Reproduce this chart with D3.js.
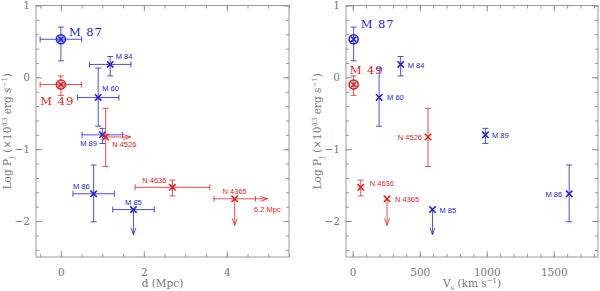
<!DOCTYPE html>
<html>
<head>
<meta charset="utf-8">
<script src="https://cdn.jsdelivr.net/npm/d3@7"></script>
<style>
  body { margin: 0; background: #fff; }
  .axis text { font-family: 'DejaVu Serif', serif; font-size: 10.5px; fill: #777; }
  .axis line { stroke: #999; }
  .axis path { display: none; }
  .title { font-family: 'DejaVu Serif', serif; font-size: 10.5px; fill: #777; }
  .lab { font-family: 'Liberation Sans', Arial, sans-serif; font-size: 7.5px; }
  .big { font-family: 'DejaVu Serif', serif; font-size: 11.5px; }
</style>
</head>
<body>
<svg width="600" height="291"></svg>
<script>
// galaxy data
const galaxies = ['M 87', 'M 49', 'M 84', 'M 60', 'M 89', 'N 4526', 'M 86', 'M 85', 'N 4636', 'N 4365'];
const subgroup = ['A', 'B', 'A', 'A', 'A', 'B', 'A', 'A', 'B', 'B'];
const circled = [true, true, false, false, false, false, false, false, false, false];
const dist = [0, 0, 1.19, 0.9, 1.0, 1.08, 0.79, 1.75, 2.69, 4.19];
const distErr = [0.5, 0.5, 0.5, 0.5, 0.49, null, 0.5, 0.5, 0.9, 0.5];
const distLimit = [null, null, null, null, null, 1.68, null, null, null, 4.98];
const velocity = [7, 7, 358, 197, 990, 562, 1615, 595, 60, 256];
const logP = [0.53, -0.1, 0.18, -0.28, -0.8, -0.83, -1.62, -1.84, -1.53, -1.69];
const logPHi = [0.7, 0.02, 0.29, 0.13, -0.71, -0.43, -1.22, null, -1.43, null];
const logPLo = [0.23, -0.25, 0.02, -0.68, -0.92, -1.24, -2.01, null, -1.65, null];
const logPLimit = [null, null, null, null, null, null, null, -2.19, null, -2.06];

const svg = d3.select('svg');
const color = d3.scaleOrdinal().domain(['A', 'B']).range(['#2424d8', '#e02424']);

// label placement, [dx, dy, anchor]
const labLeft = [[8, -3, 'start'], [-3.5, 20, 'middle'], [5.5, -5, 'start'], [4, -6, 'start'], [-5.5, 11.5, 'end'],
  [6.5, 10, 'start'], [-4, -5, 'end'], [0, -5, 'middle'], [-6, -4.5, 'end'], [0, -4.7, 'middle']];
const labRight = [[7, -11, 'start'], [-4, -10.5, 'start'], [7, 3.5, 'start'], [8, 3, 'start'], [6.5, 3, 'start'],
  [-6, 3, 'end'], [-7, 3, 'end'], [7, 3, 'start'], [9, -1.5, 'start'], [8, 3, 'start']];

const y = d3.scaleLinear().domain([-2.5, 1]).range([257, 5.5]);
const xD = d3.scaleLinear().domain([-0.6, 5.5]).range([36, 289]);
const xV = d3.scaleLinear().domain([-50, 1830]).range([346, 598]);

function frame(x, major, minor, xTitle) {
  const [x0, x1] = x.range();
  const [y0, y1] = y.range();
  const g = svg.append('g');

  // inward ticks on all four sides
  const axes = [
    [d3.axisBottom(x), `translate(0,${y0})`, major, minor],
    [d3.axisTop(x), `translate(0,${y1})`, major, minor],
    [d3.axisLeft(y), `translate(${x0},0)`, [-2, -1, 0, 1], d3.range(-2.4, 1.01, 0.2)],
    [d3.axisRight(y), `translate(${x1},0)`, [-2, -1, 0, 1], d3.range(-2.4, 1.01, 0.2)],
  ];
  axes.forEach(([ax, tr, maj, min], i) => {
    g.append('g').attr('class', 'axis').attr('transform', tr)
      .call(ax.tickValues(min).tickSize(-3).tickFormat(''));
    const a = g.append('g').attr('class', 'axis').attr('transform', tr)
      .call(ax.tickValues(maj).tickSize(-6).tickPadding(i == 0 ? 10 : 6)
        .tickFormat(i == 0 || i == 2 ? d3.format('') : ''));
    if (i == 0) a.selectAll('text').attr('dy', '0.9em');
  });
  g.append('rect').attr('x', x0).attr('y', y1).attr('width', x1 - x0).attr('height', y0 - y1)
    .attr('fill', 'none').attr('stroke', '#999');

  // axis titles
  const xt = g.append('text').attr('class', 'title').attr('x', (x0 + x1) / 2).attr('y', 287)
    .attr('text-anchor', 'middle');
  xTitle(xt);
  const yt = g.append('text').attr('class', 'title')
    .attr('transform', `translate(${x0 - 25},${(y0 + y1) / 2}) rotate(-90)`).attr('text-anchor', 'middle');
  yt.append('tspan').text('Log P');
  yt.append('tspan').attr('font-size', '7px').attr('dy', 3).text('J');
  yt.append('tspan').attr('dy', -3).text('  (×10');
  yt.append('tspan').attr('font-size', '7px').attr('dy', -4).text('43');
  yt.append('tspan').attr('dy', 4).text(' erg s');
  yt.append('tspan').attr('font-size', '7px').attr('dy', -4).text('−1');
  yt.append('tspan').attr('dy', 4).text(')');
  return g;
}

function arrow(g, xa, ya, xb, yb, c) {
  g.append('line').attr('x1', xa).attr('y1', ya).attr('x2', xb).attr('y2', yb).attr('stroke', c);
  const ang = Math.atan2(yb - ya, xb - xa);
  const L = 7, W = 2.5;
  const p = [
    [xb - L * Math.cos(ang) - W * Math.sin(ang), yb - L * Math.sin(ang) + W * Math.cos(ang)],
    [xb, yb],
    [xb - L * Math.cos(ang) + W * Math.sin(ang), yb - L * Math.sin(ang) - W * Math.cos(ang)],
  ];
  g.append('path').attr('d', d3.line()(p)).attr('fill', 'none').attr('stroke', c);
}

function points(g, x, xs, showX, labs) {
  const cap = 3;
  galaxies.forEach((name, i) => {
    const c = color(subgroup[i]);
    const px = x(xs[i]), py = y(logP[i]);
    const eb = g.append('g').attr('stroke', c).attr('stroke-opacity', 0.8).attr('stroke-width', 1);
    if (logPHi[i] != null) {
      const a = y(logPHi[i]), b = y(logPLo[i]);
      eb.append('line').attr('x1', px).attr('x2', px).attr('y1', a).attr('y2', b);
      eb.append('line').attr('x1', px - cap).attr('x2', px + cap).attr('y1', a).attr('y2', a);
      eb.append('line').attr('x1', px - cap).attr('x2', px + cap).attr('y1', b).attr('y2', b);
    }
    if (logPLimit[i] != null) arrow(eb, px, py, px, y(logPLimit[i]), c);
    if (showX) {
      if (distErr[i] != null) {
        const a = x(xs[i] - distErr[i]), b = x(xs[i] + distErr[i]);
        eb.append('line').attr('x1', a).attr('x2', b).attr('y1', py).attr('y2', py);
        eb.append('line').attr('x1', a).attr('x2', a).attr('y1', py - cap).attr('y2', py + cap);
        eb.append('line').attr('x1', b).attr('x2', b).attr('y1', py - cap).attr('y2', py + cap);
      }
      if (distLimit[i] != null) {
        const start = distErr[i] != null ? x(xs[i] + distErr[i]) : px;
        arrow(eb, start, py, x(distLimit[i]), py, c);
      }
    }
    // marker
    const m = g.append('g').attr('stroke', c).attr('stroke-width', 1.6).attr('fill', 'none');
    const s = circled[i] ? 2.6 : 3.2;
    m.append('path').attr('d', `M${px - s},${py - s}L${px + s},${py + s}M${px - s},${py + s}L${px + s},${py - s}`);
    if (circled[i]) m.append('circle').attr('cx', px).attr('cy', py).attr('r', 4.5);
    // label
    const [dx, dy, anchor] = labs[i];
    g.append('text').attr('class', circled[i] ? 'big' : 'lab')
      .attr('x', px + dx).attr('y', py + dy).attr('text-anchor', anchor)
      .attr('fill', c).attr('letter-spacing', circled[i] ? 1 : 0).text(name);
  });
}

// left panel: distance
const gl = frame(xD, [0, 2, 4], d3.range(-0.5, 5.51, 0.5), (t) => t.text('d (Mpc)'));
points(gl, xD, dist, true, labLeft);
gl.append('text').attr('class', 'lab').attr('x', xD(distLimit[9])).attr('y', y(logP[9]) + 13)
  .attr('text-anchor', 'middle').attr('fill', color('B')).text('6.2 Mpc');

// right panel: velocity
const gr = frame(xV, [0, 500, 1000, 1500], d3.range(0, 1801, 100), (t) => {
  t.append('tspan').text('V');
  t.append('tspan').attr('font-size', '7px').attr('dy', 3).text('s');
  t.append('tspan').attr('dy', -3).text(' (km s');
  t.append('tspan').attr('font-size', '7px').attr('dy', -4).text('−1');
  t.append('tspan').attr('dy', 4).text(')');
});
points(gr, xV, velocity, false, labRight);
</script>
</body>
</html>
